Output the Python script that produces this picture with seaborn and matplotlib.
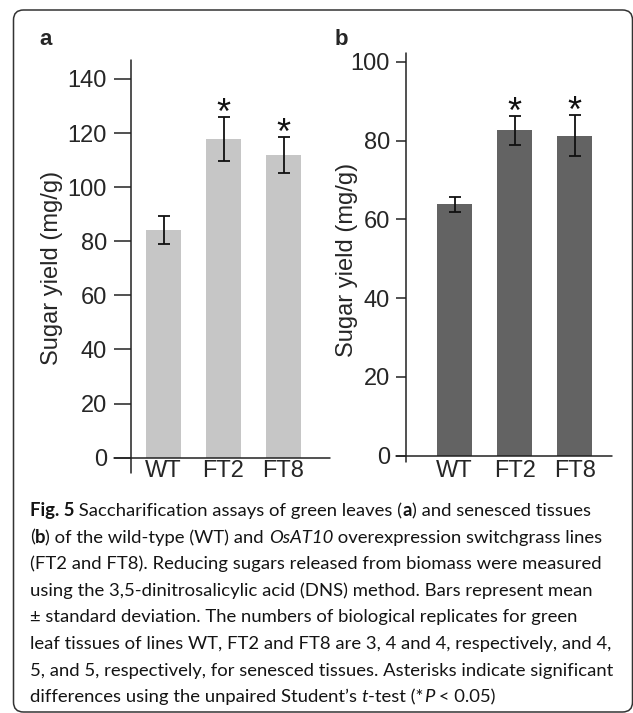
import seaborn as sns
import matplotlib.pyplot as plt
from matplotlib.patches import FancyBboxPatch

# values (mean and SD, mg/g)
lines_ = ["WT", "FT2", "FT8"]
green_mean = [84.2, 117.8, 111.9]
green_sd = [5.2, 8.3, 6.5]
green_sig = [False, True, True]
senesced_mean = [63.8, 82.6, 81.3]
senesced_sd = [1.8, 3.75, 5.3]
senesced_sig = [False, True, True]
green_ticks = [0, 20, 40, 60, 80, 100, 120, 140]
senesced_ticks = [0, 20, 40, 60, 80, 100]

sns.set_style("white")
plt.rcParams['font.family'] = ['Liberation Sans', 'DejaVu Sans']

fig = plt.figure(figsize=(6.33, 7.13), dpi=100)
W, H = 633, 713


def panel(px_left, px_right, px_top, px_zero, means, sds, sig, color, ticks,
          ytop, xlim, ticklen, ypad, xpad, vext, lab_xy, letter, letter_x):
    ax = fig.add_axes([px_left / W, (H - px_zero) / H,
                       (px_right - px_left) / W, (px_zero - px_top) / H])
    sns.barplot(x=lines_, y=means, color=color, saturation=1, width=0.583,
                linewidth=0, ax=ax)
    ax.errorbar(x=range(len(means)), y=means, yerr=sds, fmt='none',
                ecolor='#111111', elinewidth=1.3, capsize=4.5, capthick=1.3)
    for i, (m, s, flag) in enumerate(zip(means, sds, sig)):
        if flag:
            ax.annotate("*", xy=(i, m + s), xytext=(0, -5),
                        textcoords='offset points', ha='center',
                        va='baseline', fontsize=26, color='#111111')
    ax.set_xlim(*xlim)
    ax.set_ylim(0, ytop)
    ax.set_yticks(ticks)
    ax.set_yticklabels([str(t) for t in ticks])
    for sp in ax.spines.values():
        sp.set_visible(False)
    # axis lines, slightly overshooting like the original
    ax.plot([0, 0], [-vext, 1], transform=ax.transAxes, clip_on=False,
            color='#222222', lw=1.1)
    hext = ticklen * 100 / 72 / (px_right - px_left)
    ax.plot([-hext, 1], [0, 0], transform=ax.transAxes, clip_on=False,
            color='#222222', lw=1.1)
    ax.tick_params(axis='y', direction='out', length=ticklen, width=1.1,
                   color='#222222', pad=ypad, labelsize=17, left=True)
    ax.tick_params(axis='x', length=0, pad=xpad, labelsize=17)
    ax.set_xlabel("")
    ax.set_ylabel("Sugar yield (mg/g)", fontsize=17, va='center')
    ax.yaxis.set_label_coords(*lab_xy)
    fig.text(letter_x / W, (H - 45) / H, letter, fontsize=16,
             fontweight='bold', ha='left', va='baseline')
    return ax


panel(131, 330, 60, 457.7, green_mean, green_sd, green_sig, '#c6c6c6',
      green_ticks, 147, (-0.542, 2.775), 12.2, 5, 2, 0.038,
      (-0.397, 0.478), "a", 39)
panel(406, 612, 53.3, 455.7, senesced_mean, senesced_sd, senesced_sig,
      '#636363', senesced_ticks, 102.2, (-0.81, 2.62), 7.2, 4.3, 3.4, 0.015,
      (-0.286, 0.486), "b", 335)

# rounded frame around the figure
frame = FancyBboxPatch((0.135, 0.01), 6.19, 7.02,
                       boxstyle="round,pad=0,rounding_size=0.1",
                       transform=fig.dpi_scale_trans, fill=False,
                       ec='#333333', lw=1.1)
fig.add_artist(frame)

# caption, drawn run by run so bold/italic parts sit inline
N, B, I = 'normal', 'bold', 'italic'
caption = [
    [("Fig. 5", B), (" Saccharification assays of green leaves (", N), ("a", B),
     (") and senesced tissues", N)],
    [("(", N), ("b", B), (") of the wild-type (WT) and ", N), ("OsAT10", I),
     (" overexpression switchgrass lines", N)],
    [("(FT2 and FT8). Reducing sugars released from biomass were measured", N)],
    [("using the 3,5-dinitrosalicylic acid (DNS) method. Bars represent mean", N)],
    [("\u00b1 standard deviation. The numbers of biological replicates for green", N)],
    [("leaf tissues of lines WT, FT2 and FT8 are 3, 4 and 4, respectively, and 4,", N)],
    [("5, and 5, respectively, for senesced tissues. Asterisks indicate significant", N)],
    [("differences using the unpaired Student\u2019s ", N), ("t", I), ("-test (*", N),
     ("P", I), (" < 0.05)", N)],
]
renderer = fig.canvas.get_renderer()
cap_font = ['Lato', 'DejaVu Sans']
for k, runs in enumerate(caption):
    x = 30
    y = 516 + k * 26.6
    for txt, kind in runs:
        t = fig.text(x / W, (H - y) / H, txt, fontsize=13.3, family=cap_font,
                     fontweight='bold' if kind == B else 'normal',
                     fontstyle='italic' if kind == I else 'normal',
                     ha='left', va='baseline', color='#141414')
        x += t.get_window_extent(renderer).width

fig.savefig("out.png", dpi=100)
